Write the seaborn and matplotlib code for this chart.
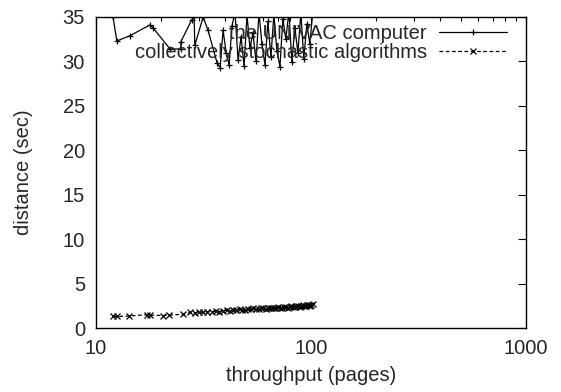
import matplotlib
matplotlib.use("Agg")
import matplotlib.pyplot as plt
import seaborn as sns
import numpy as np
import pandas as pd
from matplotlib.ticker import FixedLocator, FixedFormatter, NullFormatter, LogLocator

# ---- data ----
univac_x = [12.0, 12.5, 14.4, 17.8, 18.4, 22.1, 24.8, 24.8, 27.9, 28.6, 28.8, 31.5, 33.2, 36.6,
            37.8, 39.0, 40.3, 41.6, 42.9, 44.3, 45.8, 47.3, 48.8, 50.4, 52.0, 53.7, 55.5,
            57.3, 59.1, 61.1, 63.0, 65.1, 67.2, 69.4, 71.7, 74.0, 76.4, 78.9, 81.5, 84.1,
            86.9, 89.7, 92.6, 95.6, 98.7, 101.9]
univac_y = [35.0, 32.3, 32.9, 34.1, 33.8, 31.4, 31.4, 32.2, 34.7, 35.1, 31.8, 35.0, 33.5, 29.8,
            29.3, 33.5, 31.0, 29.6, 34.0, 35.5, 30.2, 32.8, 29.5, 35.2, 31.5, 33.2, 30.0,
            35.5, 32.0, 29.6, 34.5, 30.5, 35.3, 31.2, 29.4, 34.8, 32.5, 35.6, 29.9, 33.8,
            31.0, 35.4, 30.3, 34.2, 32.0, 35.5]

stoch_x = [12.0, 12.5, 14.2, 17.3, 17.9, 20.5, 21.9, 25.5, 27.5, 28.8, 30.2, 31.6, 33.0,
           34.5, 36.0, 37.5, 39.0, 40.5, 42.0, 43.5, 45.0, 46.5, 48.0, 49.5, 51.0, 52.5,
           54.0, 55.5, 57.0, 58.5, 60.0, 61.5, 63.0, 64.5, 66.0, 67.5, 69.0, 70.5, 72.0,
           73.5, 75.0, 76.5, 78.0, 79.5, 81.0, 82.5, 84.0, 85.5, 87.0, 88.5, 90.0, 91.5,
           93.0, 94.5, 96.0, 97.5, 99.0, 100.5, 102.0]
stoch_y = [1.35, 1.30, 1.35, 1.50, 1.45, 1.40, 1.45, 1.55, 1.75, 1.70, 1.80, 1.75, 1.85,
           1.80, 1.90, 1.85, 1.95, 2.00, 1.95, 2.05, 2.00, 2.10, 2.05, 2.00, 2.15, 2.10,
           2.20, 2.10, 2.15, 2.25, 2.20, 2.15, 2.30, 2.20, 2.25, 2.30, 2.25, 2.35, 2.30,
           2.25, 2.35, 2.40, 2.30, 2.35, 2.45, 2.40, 2.35, 2.45, 2.50, 2.40, 2.45, 2.55,
           2.50, 2.45, 2.55, 2.60, 2.50, 2.60, 2.65]

label_univac = "the UNIVAC computer"
label_stoch = "collectively stochastic algorithms"
xlabel = "throughput (pages)"
ylabel = "distance (sec)"
x_ticks = [10, 100, 1000]
x_ticklabels = ["10", "100", "1000"]
y_ticks = [0, 5, 10, 15, 20, 25, 30, 35]

df = pd.concat([
    pd.DataFrame({"x": univac_x, "y": univac_y, "series": label_univac}),
    pd.DataFrame({"x": stoch_x, "y": stoch_y, "series": label_stoch}),
], ignore_index=True)

sns.set_style("white")
plt.rcParams['font.family'] = ['Liberation Sans', 'DejaVu Sans']
FS = 14.5

fig = plt.figure(figsize=(5.61, 3.92), dpi=100)
ax = fig.add_axes([96/561, 1-328/392, (526-96)/561, (328-17)/392])

sns.lineplot(data=df, x="x", y="y", hue="series", style="series", units="series",
             palette={label_univac: "black", label_stoch: "black"},
             markers={label_univac: "+", label_stoch: "x"},
             dashes={label_univac: "", label_stoch: (3, 2)},
             estimator=None, sort=False, linewidth=0.9, markersize=5,
             markeredgewidth=0.9, markeredgecolor="black", ax=ax, legend=True)

ax.set_xscale("log")
ax.set_xlim(10, 1000)
ax.set_ylim(0, 35)
ax.xaxis.set_major_locator(FixedLocator(x_ticks))
ax.xaxis.set_major_formatter(FixedFormatter(x_ticklabels))
ax.xaxis.set_minor_locator(LogLocator(base=10, subs=np.arange(2, 10)))
ax.xaxis.set_minor_formatter(NullFormatter())
ax.set_yticks(y_ticks)

ax.tick_params(which="both", direction="in", top=True, right=True, labelsize=FS,
               color="black", width=0.8)
ax.tick_params(which="major", length=6, pad=8)
ax.tick_params(which="minor", length=3)
for s in ax.spines.values():
    s.set_color("black")
    s.set_linewidth(1.0)
    s.set_visible(True)

ax.set_xlabel(xlabel, fontsize=FS, labelpad=6)
ax.set_ylabel(ylabel, fontsize=FS, labelpad=21)

handles, labels = ax.get_legend_handles_labels()
for h in handles:
    h.set_markersize(5)
leg = ax.legend(handles, labels, loc="upper right", frameon=False, markerfirst=False,
                fontsize=FS, handlelength=3.4, handletextpad=0.6, labelspacing=0.0,
                borderaxespad=0.2, bbox_to_anchor=(0.985, 1.015))

fig.savefig("out.png", dpi=100)
